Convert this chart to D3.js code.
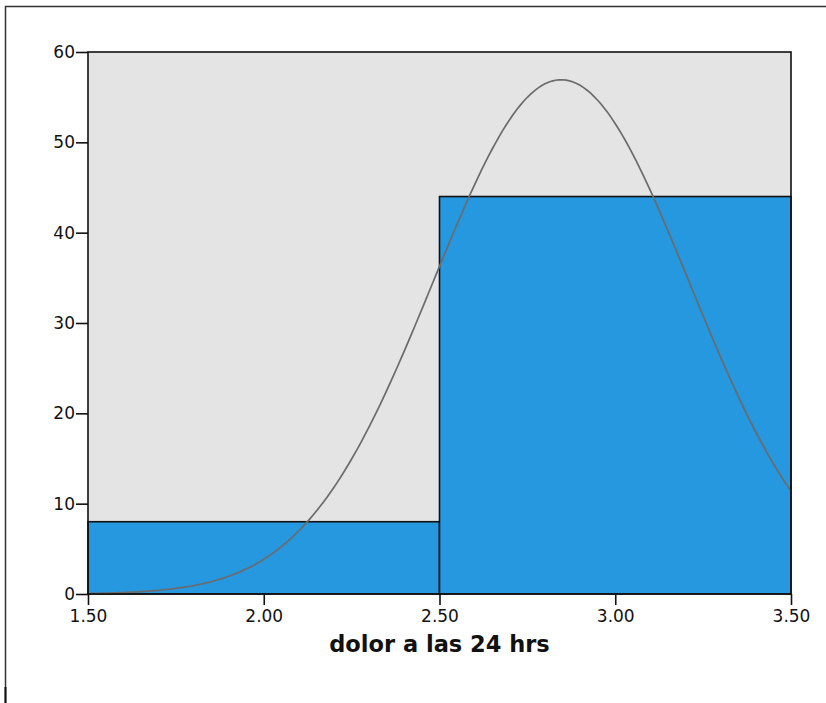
<!DOCTYPE html>
<html><head><meta charset="utf-8">
<script src="https://cdn.jsdelivr.net/npm/d3@7"></script>
<style>html,body{margin:0;padding:0;background:#fff;}svg{display:block;}</style>
</head><body>
<svg id="c" width="826" height="703"></svg>
<script>
// Data
const binStarts = [1.5, 2.5];
const binEnds = [2.5, 3.5];
const binCounts = [8, 44];
const xTicks = [1.5, 2.0, 2.5, 3.0, 3.5];
const yTicks = [0, 10, 20, 30, 40, 50, 60];
const xTitle = "dolor a las 24 hrs";
// Fitted normal curve parameters (from the histogram: N=52, mean, std. dev.)
const curveN = 52;
const curveMean = 2.846;
const curveSd = 0.3644;
const binWidth = 1;

const svg = d3.select("#c");
const L = 88, R = 791, T = 52, B = 594;
const x = d3.scaleLinear().domain([1.5, 3.5]).range([L, R]);
const y = d3.scaleLinear().domain([0, 60]).range([B, T]);

// outer frame
svg.append("path").attr("d", "M5.5,703 V6.5 H826")
  .attr("fill", "none").attr("stroke", "#333").attr("stroke-width", 1.5);
svg.append("line").attr("x1", 5.5).attr("x2", 5.5).attr("y1", 687).attr("y2", 703)
  .attr("stroke", "#111").attr("stroke-width", 2);

// plot background
svg.append("rect").attr("x", L).attr("y", T).attr("width", R - L).attr("height", B - T)
  .attr("fill", "#e4e4e4");

// bars
svg.selectAll("rect.bar").data(binCounts).enter().append("rect").attr("class", "bar")
  .attr("x", (d, i) => x(binStarts[i]))
  .attr("width", (d, i) => x(binEnds[i]) - x(binStarts[i]))
  .attr("y", d => y(d)).attr("height", d => y(0) - y(d))
  .attr("fill", "#2698e0").attr("stroke", "#111").attr("stroke-width", 1.6);

// normal curve
const xs = d3.range(1.5, 3.5001, 0.01);
const dens = v => curveN * binWidth / (curveSd * Math.sqrt(2 * Math.PI)) *
  Math.exp(-0.5 * Math.pow((v - curveMean) / curveSd, 2));
svg.append("path").datum(xs)
  .attr("d", d3.line().x(d => x(d)).y(d => y(dens(d))))
  .attr("fill", "none").attr("stroke", "#6b6b6b").attr("stroke-width", 1.7);

// frame of plot
svg.append("rect").attr("x", L).attr("y", T).attr("width", R - L).attr("height", B - T)
  .attr("fill", "none").attr("stroke", "#111").attr("stroke-width", 1.6);

// axes
const font = "DejaVu Sans, Verdana, sans-serif";
const yAxis = d3.axisLeft(y).tickValues(yTicks).tickFormat(d3.format("d")).tickSize(12).tickPadding(1);
const gy = svg.append("g").attr("transform", `translate(${L},0)`).call(yAxis);
const xAxis = d3.axisBottom(x).tickValues(xTicks).tickFormat(d3.format(".2f")).tickSize(11).tickPadding(5);
const gx = svg.append("g").attr("transform", `translate(0,${B})`).call(xAxis);
[gx, gy].forEach(g => {
  g.select(".domain").remove();
  g.selectAll(".tick line").attr("stroke", "#111").attr("stroke-width", 1.6);
  g.selectAll(".tick text").attr("fill", "#111").style("font-family", font).style("font-size", "17px");
});

svg.append("text").attr("x", (L + R) / 2).attr("y", 652).attr("text-anchor", "middle")
  .style("font-family", font).style("font-size", "22.5px").style("font-weight", "bold")
  .attr("fill", "#111").text(xTitle);
</script>
</body></html>
